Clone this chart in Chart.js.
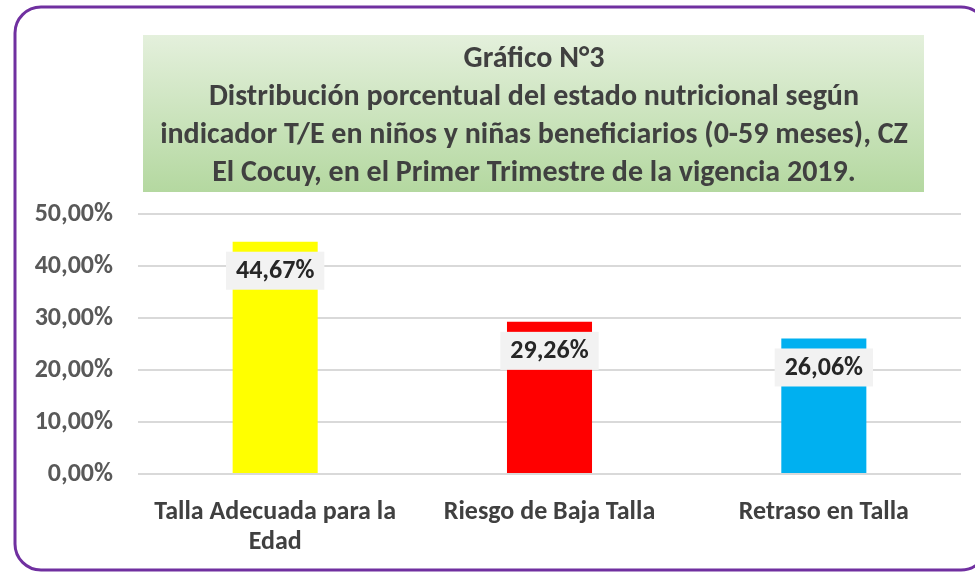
<!DOCTYPE html>
<html>
<head>
<meta charset="utf-8">
<script src="https://cdn.jsdelivr.net/npm/chart.js@4/dist/chart.umd.min.js"></script>
<style>
  body { margin: 0; background: #fff; }
  #canvas { display: block; }
</style>
</head>
<body>
<canvas id="canvas" width="975" height="573"></canvas>
<script>
const titleLines = [
    'Gráfico N°3',
    'Distribución porcentual del estado nutricional según',
    'indicador T/E en niños y niñas beneficiarios (0-59 meses), CZ',
    'El Cocuy, en el Primer Trimestre de la vigencia 2019.'
];
const categories = [['Talla Adecuada para la', 'Edad'], 'Riesgo de Baja Talla', 'Retraso en Talla'];
const values = [44.67, 29.26, 26.06];
const barColors = ['#ffff00', '#ff0000', '#00b0f0'];
const yMin = 0;
const yMax = 50;
const yStep = 10;

const FONT = 'Carlito, Lato, sans-serif';

function pct(v) {
    return v.toFixed(2).replace('.', ',') + '%';
}

// frame + green title box
const framePlugin = {
    id: 'frame',
    beforeDraw(chart) {
        const ctx = chart.ctx;
        ctx.save();
        ctx.strokeStyle = '#7030a0';
        ctx.lineWidth = 3;
        ctx.beginPath();
        ctx.roundRect(15, 7, 972, 563, 26);
        ctx.stroke();

        const g = ctx.createLinearGradient(0, 35, 0, 192);
        g.addColorStop(0, '#e4f0dc');
        g.addColorStop(1, '#b4d8a0');
        ctx.fillStyle = g;
        ctx.fillRect(143, 35, 781, 157);

        ctx.fillStyle = '#404040';
        ctx.font = 'bold 30px ' + FONT;
        ctx.textAlign = 'center';
        ctx.textBaseline = 'middle';
        titleLines.forEach((line, i) => {
            ctx.fillText(line, 534, 59 + i * 38);
        });
        ctx.restore();
    }
};

// value boxes near top of each bar
const labelPlugin = {
    id: 'valueBoxes',
    afterDatasetsDraw(chart) {
        const ctx = chart.ctx;
        const meta = chart.getDatasetMeta(0);
        ctx.save();
        ctx.font = 'bold 26px ' + FONT;
        ctx.textAlign = 'center';
        ctx.textBaseline = 'middle';
        meta.data.forEach((bar, i) => {
            const txt = pct(values[i]);
            const w = ctx.measureText(txt).width + 20;
            const h = 38;
            const cy = bar.y + 29;
            ctx.fillStyle = '#f2f2f2';
            ctx.fillRect(bar.x - w / 2, cy - h / 2, w, h);
            ctx.fillStyle = '#262626';
            ctx.fillText(txt, bar.x, cy + 1);
        });
        ctx.restore();
    }
};

const data = {
    labels: categories,
    datasets: [
        {
            data: values,
            backgroundColor: barColors,
            borderWidth: 0,
            barPercentage: 0.31,
            categoryPercentage: 1
        }
    ]
};

const config = {
    type: 'bar',
    data: data,
    options: {
        responsive: false,
        devicePixelRatio: 1,
        animation: false,
        layout: { padding: { top: 214, right: 14, left: 0, bottom: 0 } },
        plugins: {
            legend: { display: false },
            title: { display: false },
            tooltip: { enabled: false }
        },
        scales: {
            x: {
                grid: { display: false },
                border: { display: false },
                ticks: {
                    color: '#404040',
                    font: { family: FONT, size: 26, weight: 'bold', lineHeight: 1.15 },
                    padding: 16,
                    maxRotation: 0,
                    autoSkip: false
                },
                afterFit(s) { s.height = 99; }
            },
            y: {
                min: yMin,
                max: yMax,
                grid: { color: '#d9d9d9', lineWidth: 2, drawTicks: false },
                border: { display: false },
                ticks: {
                    stepSize: yStep,
                    color: '#595959',
                    font: { family: FONT, size: 26, weight: 'bold' },
                    padding: 25,
                    callback: v => pct(v)
                },
                afterFit(s) { s.width = 138; }
            }
        }
    },
    plugins: [framePlugin, labelPlugin]
};

const canvas = document.getElementById('canvas');
const chart = new Chart(canvas, config);
</script>
</body>
</html>
